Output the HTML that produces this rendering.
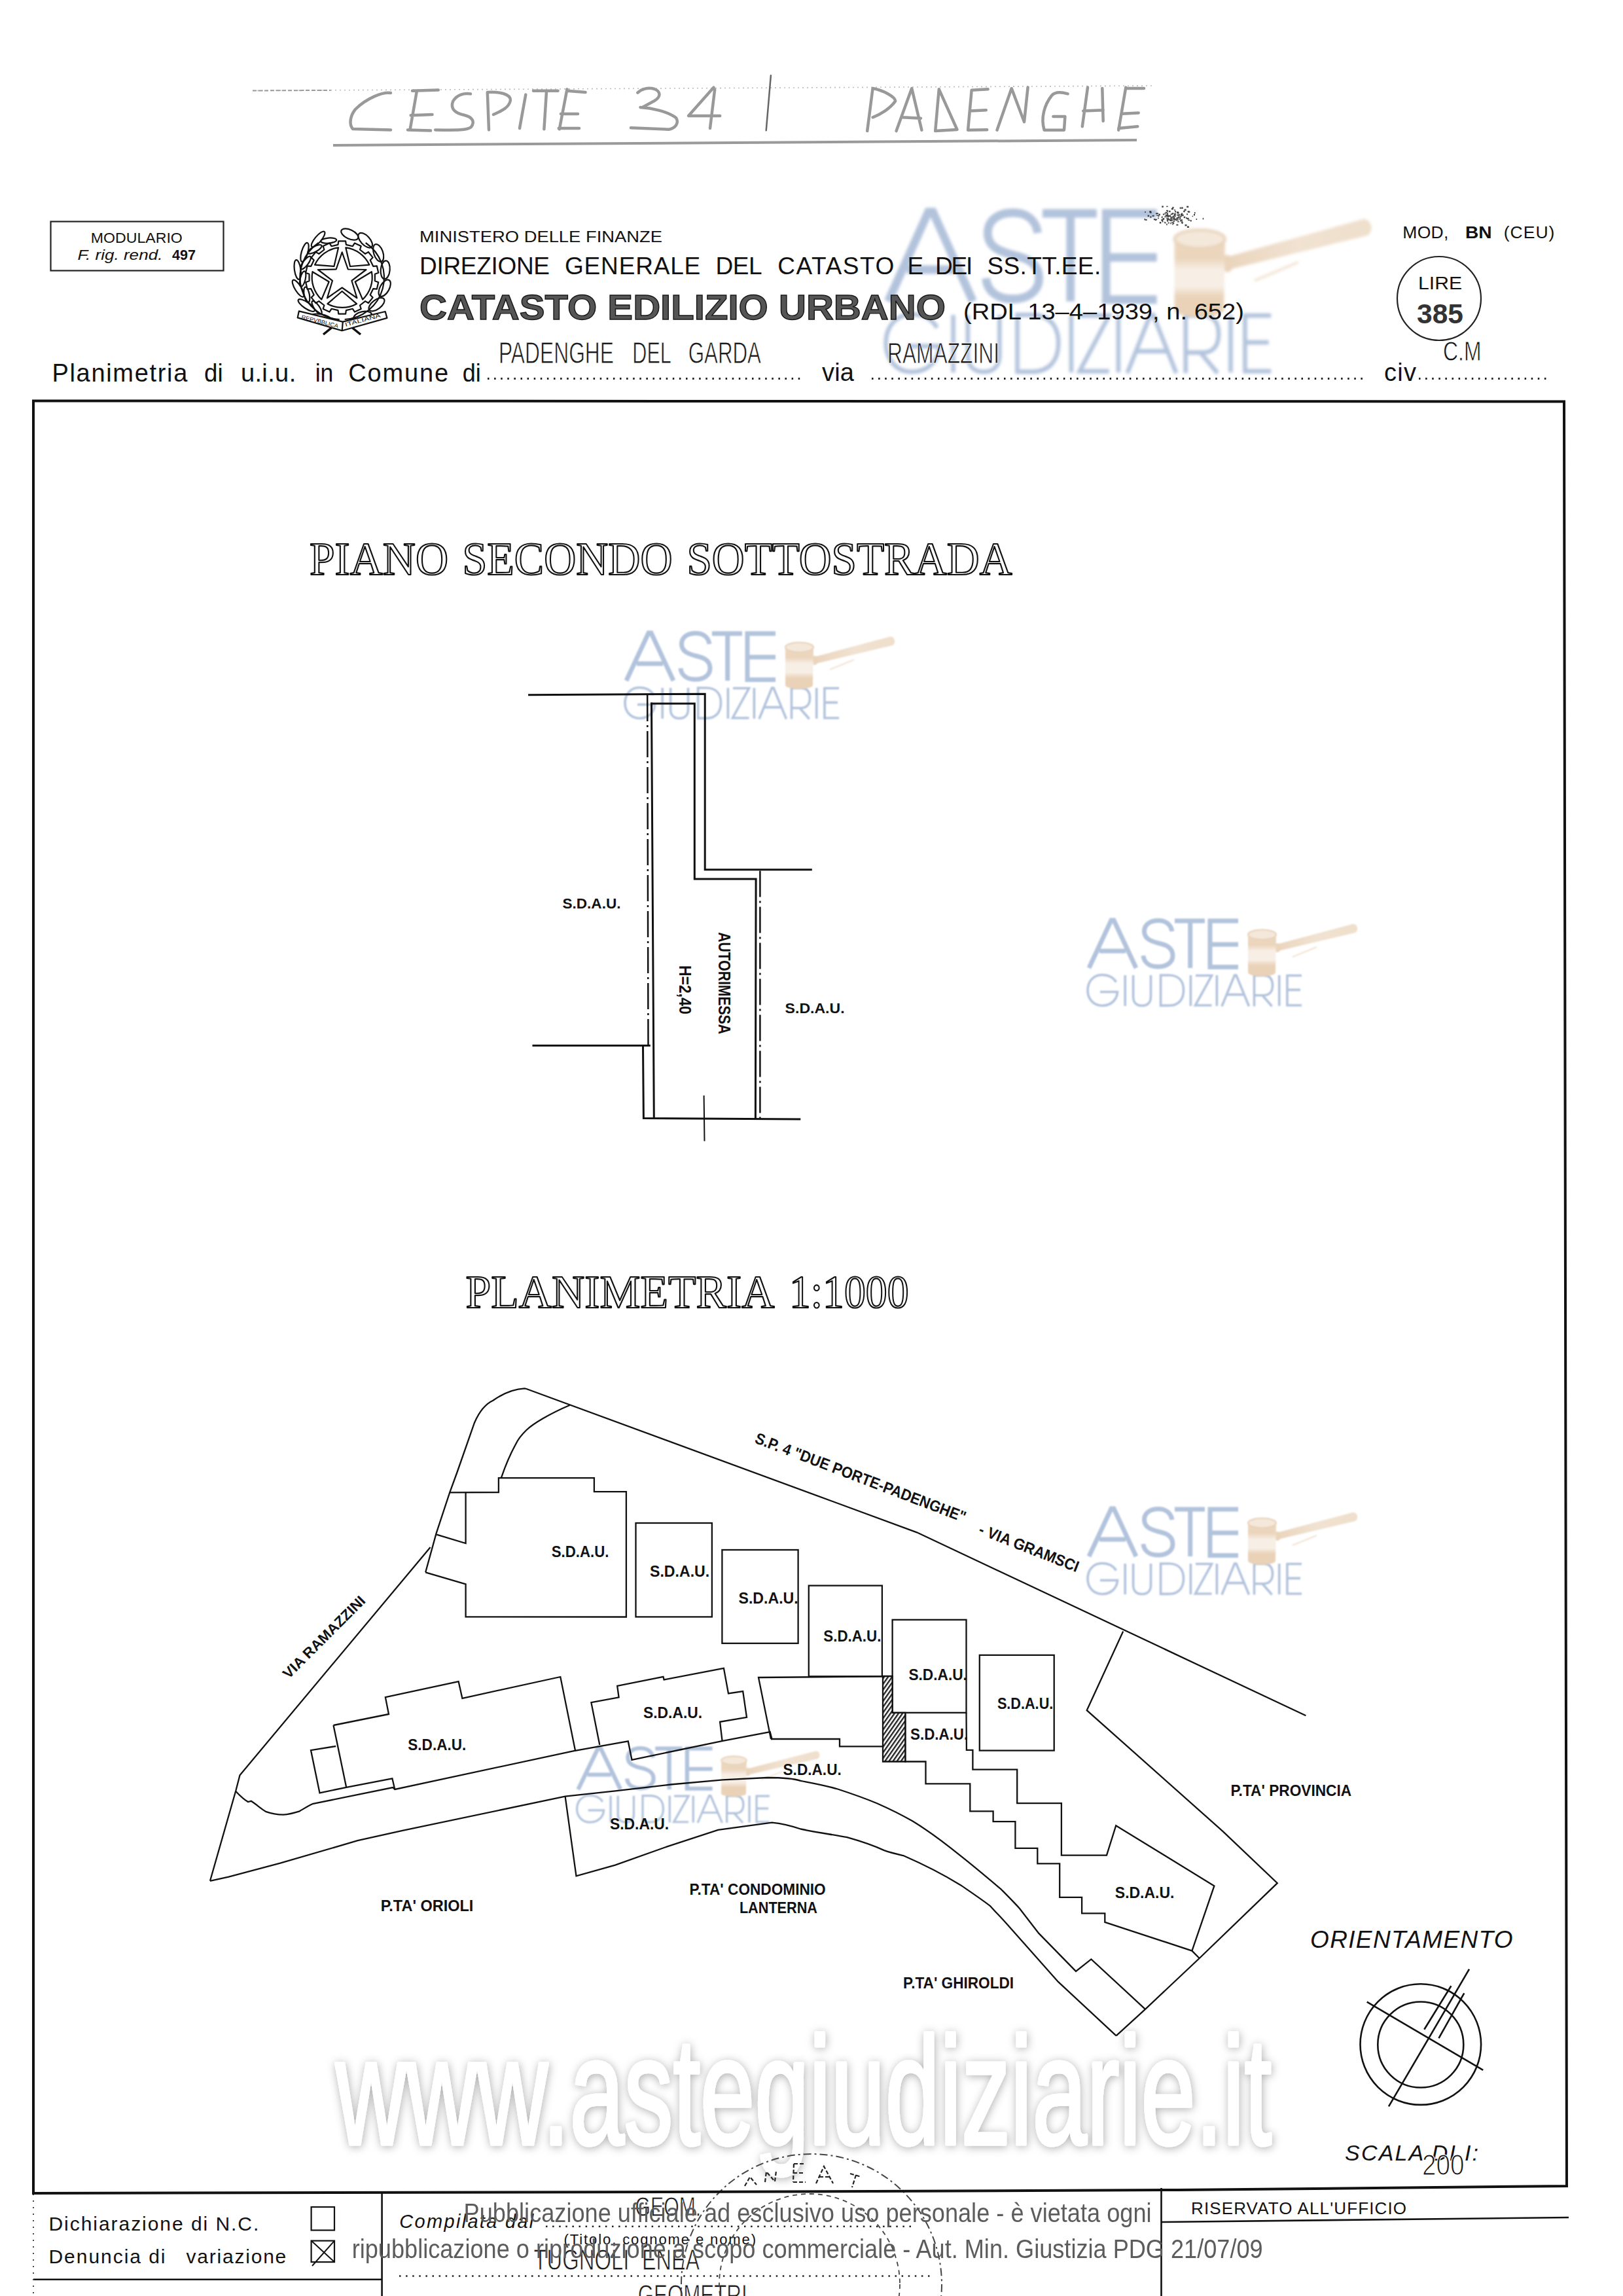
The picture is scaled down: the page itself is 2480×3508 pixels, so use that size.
<!DOCTYPE html>
<html><head><meta charset="utf-8">
<style>
html,body{margin:0;padding:0;background:#fff;}
body{width:2480px;height:3508px;overflow:hidden;position:relative;}
svg{position:absolute;left:0;top:0;}
text{font-family:"Liberation Sans",sans-serif;}
.serif{font-family:"Liberation Serif",serif;}
</style></head>
<body>
<svg width="2480" height="3508" viewBox="0 0 2480 3508">
<defs>
<linearGradient id="gvb" x1="0" y1="0" x2="0" y2="1">
  <stop offset="0" stop-color="#ecd7c0"/><stop offset="0.25" stop-color="#ebd5bc"/>
  <stop offset="0.4" stop-color="#f7eee5"/><stop offset="0.62" stop-color="#f7eee5"/>
  <stop offset="0.75" stop-color="#ead3b9"/><stop offset="1" stop-color="#e8d0b4"/>
</linearGradient>
<linearGradient id="gvh" x1="0" y1="0" x2="1" y2="0">
  <stop offset="0" stop-color="#ead5bd"/><stop offset="0.5" stop-color="#f1e2d1"/><stop offset="1" stop-color="#efdfcc"/>
</linearGradient>
<filter id="wmblur" x="-5%" y="-10%" width="110%" height="120%"><feGaussianBlur stdDeviation="1.1"/></filter>
<filter id="blur1" x="-5%" y="-5%" width="110%" height="110%"><feGaussianBlur stdDeviation="0.8"/></filter>
<filter id="wmshadow" x="-5%" y="-20%" width="110%" height="140%">
  <feGaussianBlur in="SourceAlpha" stdDeviation="6" result="b"/>
  <feFlood flood-color="#000" flood-opacity="0.32"/>
  <feComposite in2="b" operator="in" result="s"/>
  <feMerge><feMergeNode in="s"/><feMergeNode in="SourceGraphic"/></feMerge>
</filter>
<!-- ASTE GIUDIZIARIE watermark base (coords of instance at 1658,1403) -->
<g id="wm" filter="url(#wmblur)">
  <g fill="none" stroke="#b2c3dc" stroke-linecap="butt" stroke-linejoin="miter">
    <g stroke-width="7">
      <path d="M1664 1479 L1698 1406 L1702 1406 L1736 1479 M1680 1453 L1720 1453"/>
      <path d="M1791 1423 C1789 1411 1780 1406.5 1770 1406.5 C1757 1406.5 1748.5 1413 1748.5 1423 C1748.5 1434 1758 1438 1770 1441 C1784 1444 1792 1449 1792 1460 C1792 1471 1782 1477 1770 1477 C1757 1477 1748 1471 1747 1460"/>
      <path d="M1795 1407 L1841 1407 M1818.7 1407 L1818.7 1479"/>
      <path d="M1892 1407 L1849 1407 L1849 1477.5 L1892 1477.5 M1849 1443 L1892 1443"/>
    </g>
    <g stroke-width="3.6">
      <path d="M1705.5 1500.5 C1701 1493 1693 1489.5 1684 1489.5 C1670.5 1489.5 1662 1500 1662 1513 C1662 1526.5 1671 1536.5 1684 1536.5 C1698 1536.5 1707 1527 1707.5 1515.5 L1681 1515.5"/>
      <path d="M1719.2 1490 L1719.2 1537"/>
      <path d="M1731.6 1490 L1731.6 1523 C1731.6 1532 1737 1536.5 1745 1536.5 C1753 1536.5 1758.5 1532 1758.5 1523 L1758.5 1490"/>
      <path d="M1773.6 1490 L1773.6 1536.4 L1786 1536.4 C1801 1536.4 1808.5 1527 1808.5 1513 C1808.5 1499 1801 1490 1786 1490 Z"/>
      <path d="M1819.4 1490 L1819.4 1537"/>
      <path d="M1827 1490.5 L1851.5 1490.5 L1826.5 1536 L1851.5 1536"/>
      <path d="M1859.4 1490 L1859.4 1537"/>
      <path d="M1867 1537.5 L1886.5 1490 L1889 1490 L1908.5 1537.5 M1874 1519.6 L1901.5 1519.6"/>
      <path d="M1916.5 1537.5 L1916.5 1490.5 L1931 1490.5 C1940 1490.5 1944.5 1496 1944.5 1505.5 C1944.5 1515 1940 1520.7 1931 1520.7 L1916.5 1520.7 M1929 1520.7 L1943.6 1537.5"/>
      <path d="M1954.7 1490 L1954.7 1537"/>
      <path d="M1989 1490.5 L1966.9 1490.5 L1966.9 1536 L1989 1536 M1966.9 1512.4 L1987 1512.4"/>
    </g>
  </g>
  <!-- gavel -->
  <g>
    <path d="M1950 1443 L2066 1412 C2074 1410 2077 1421 2071 1425 L1953 1453 Z" fill="url(#gvh)"/>
    <path d="M1975 1462 L2012 1447" stroke="#f1e3d3" stroke-width="2" fill="none"/>
    <ellipse cx="1952" cy="1448" rx="5" ry="7" fill="#ead4bb"/>
    <path d="M1907 1428 L1950 1428 L1949 1485 C1945 1492 1911 1492 1907 1485 Z" fill="url(#gvb)"/>
    <ellipse cx="1928.5" cy="1428" rx="21.5" ry="7.5" fill="#f4e8da" stroke="#e8d2b9" stroke-width="2.2"/>
    <ellipse cx="1928" cy="1486" rx="21" ry="5.5" fill="#e9d2b7"/>
  </g>
</g>
</g>
</defs>

<!-- watermark instances -->
<use href="#wm"/>
<use href="#wm" transform="translate(0,899)"/>
<use href="#wm" transform="translate(-707,-439)"/>
<use href="#wm" transform="translate(878,2668) scale(0.9,0.87) translate(-1658,-1403)"/>
<use href="#wm" transform="translate(1346.4,318.5) scale(1.8,1.87) translate(-1658,-1403)"/>



<!-- handwritten top -->
<g fill="none" stroke="#bdbdbd" stroke-width="1.6" stroke-dasharray="2 5">
  <path d="M386 138.5 L1760 131"/>
</g>
<path d="M386 138.5 L505 137.9" stroke="#9a9a9a" stroke-width="2" stroke-dasharray="6 3" fill="none"/>
<path d="M509 222 C900 221 1300 219 1737 214" fill="none" stroke="#9a9a9a" stroke-width="4"/>
<g fill="none" stroke="#999" stroke-width="4.5" stroke-linecap="round" stroke-linejoin="round">
  <path d="M597 142 C585 140 560 150 543 167 C535 177 533 190 539 197 L597 198.5"/>
  <path d="M637 138.7 L626.5 198.4 M630 138.7 L669.8 137.6 M627.7 176.2 L660.5 175 M623 198.4 L658 199.6"/>
  <path d="M719 143.4 C710 142 698 144 692 155 C688 166 695 173 710 176 C722 179 726 186 720 194 C714 199 700 199 665.2 198.4"/>
  <path d="M744.8 141 L747 198.4 M744.8 141 C765 140 780 144 780 153 C778 165 765 170 754 175"/>
  <path d="M803.3 144.6 L794 196"/>
  <path d="M815 138.7 L852.5 138.7 M835 140 L831.4 197.3"/>
  <path d="M866.5 136.4 L854.8 197.3 M866.5 138.7 L894.6 141 M857 173.9 L883 173.9 M853.7 196 L885 196"/>
  <path d="M974.4 141.7 C980 136 990 133 1000 136 C1010 140 1010 148 1000 154 L981.7 164 M978.5 164 C995 165 1020 170 1033 180 C1038 188 1032 196 1022 197.7 L964 195.3"/>
  <path d="M1090.6 133.6 L1052 176.9 L1100.2 176.9 M1092.2 136.8 L1085 196"/>
  <path d="M1177.9 115.2 L1170.7 199.3" stroke="#666" stroke-width="2.5"/>
  <path d="M1333.6 135 L1325.2 200.1 M1333.6 135 C1350 138 1368 148 1368.2 154.4 C1360 166 1345 175 1333.6 179.3"/>
  <path d="M1369.6 200.1 L1393.2 135 L1408.4 198.7 M1379.3 179.3 L1407 180.7"/>
  <path d="M1434.8 136.3 L1429.2 200.1 L1462.5 198 L1434.8 136.3"/>
  <path d="M1484.7 137.7 L1479.1 198.7 M1484.7 137.7 L1509.6 136.3 M1481.9 169.6 L1506.8 168.2 M1479.1 198.7 L1508.2 198.2"/>
  <path d="M1523.5 198.7 L1545.7 135 L1565 186.2 L1570.6 133.6"/>
  <path d="M1631.6 143.3 C1620 140 1612 140 1607 146 C1596 160 1590 180 1595.6 198.7 L1626 198.7 L1627.4 177.9 L1609.4 177.9"/>
  <path d="M1662 133.6 L1653.8 193.2 M1684.3 135 L1685.7 184.9 M1655.2 169.6 L1685.7 168.2"/>
  <path d="M1720.3 133.6 L1709.2 198.7 M1720.3 135 L1748 135 M1714.8 173.8 L1739.7 172.4 M1709.2 196 L1738.3 193.2"/>
</g>

<!-- ===== HEADER ===== -->
<g fill="#222" opacity="0.85"><rect x="1785.4" y="335.1" width="1.5" height="1.5"/><rect x="1793.5" y="327.8" width="1.5" height="2.5"/><rect x="1791.7" y="334.3" width="3" height="1.5"/><rect x="1791.3" y="341.1" width="1.5" height="2.5"/><rect x="1799.1" y="335.0" width="1.5" height="2.5"/><rect x="1785.1" y="329.7" width="2" height="1.5"/><rect x="1781.0" y="329.5" width="3" height="1.5"/><rect x="1767.3" y="328.4" width="2" height="1.5"/><rect x="1767.6" y="325.4" width="2.5" height="1.5"/><rect x="1783.8" y="330.1" width="1.5" height="2.5"/><rect x="1797.4" y="342.6" width="3" height="2"/><rect x="1750.1" y="334.9" width="2.5" height="2"/><rect x="1790.1" y="336.0" width="2" height="1.5"/><rect x="1770.4" y="326.6" width="2.5" height="2.5"/><rect x="1766.6" y="334.5" width="1.5" height="1.5"/><rect x="1779.2" y="330.6" width="2.5" height="1.5"/><rect x="1807.2" y="327.6" width="1.5" height="2.5"/><rect x="1757.1" y="323.8" width="2.5" height="2"/><rect x="1781.9" y="320.9" width="3" height="1.5"/><rect x="1813.2" y="314.7" width="3" height="2.5"/><rect x="1786.7" y="328.6" width="2.5" height="2.5"/><rect x="1766.0" y="325.3" width="3" height="2"/><rect x="1782.2" y="314.7" width="2.5" height="1.5"/><rect x="1805.7" y="328.3" width="1.5" height="2"/><rect x="1818.7" y="336.0" width="2" height="2.5"/><rect x="1790.3" y="339.0" width="3" height="1.5"/><rect x="1799.2" y="338.0" width="2.5" height="1.5"/><rect x="1805.2" y="316.5" width="2.5" height="2.5"/><rect x="1775.4" y="334.8" width="3" height="1.5"/><rect x="1796.5" y="335.0" width="2" height="2.5"/><rect x="1792.2" y="340.2" width="2" height="2"/><rect x="1788.0" y="335.4" width="2.5" height="2.5"/><rect x="1749.3" y="323.0" width="1.5" height="2"/><rect x="1815.3" y="322.8" width="3" height="2"/><rect x="1783.2" y="333.2" width="3" height="1.5"/><rect x="1781.9" y="332.4" width="1.5" height="1.5"/><rect x="1800.3" y="331.0" width="1.5" height="2"/><rect x="1784.8" y="329.0" width="2" height="2.5"/><rect x="1771.8" y="339.0" width="2.5" height="2.5"/><rect x="1783.9" y="334.1" width="3" height="2"/><rect x="1774.6" y="331.8" width="2" height="1.5"/><rect x="1789.9" y="317.9" width="3" height="2.5"/><rect x="1792.1" y="332.5" width="2.5" height="1.5"/><rect x="1775.3" y="314.5" width="2.5" height="2.5"/><rect x="1808.2" y="321.7" width="2.5" height="2.5"/><rect x="1782.7" y="334.6" width="2" height="2.5"/><rect x="1769.4" y="328.6" width="2" height="2.5"/><rect x="1809.6" y="319.4" width="3" height="2.5"/><rect x="1794.0" y="326.0" width="3" height="2"/><rect x="1795.1" y="322.2" width="2" height="2.5"/><rect x="1776.9" y="326.5" width="2.5" height="2"/><rect x="1797.3" y="332.8" width="3" height="1.5"/><rect x="1779.2" y="338.8" width="1.5" height="2"/><rect x="1803.9" y="327.0" width="1.5" height="2.5"/><rect x="1803.0" y="336.4" width="2" height="2"/><rect x="1804.7" y="325.5" width="2.5" height="1.5"/><rect x="1775.5" y="335.9" width="1.5" height="2.5"/><rect x="1813.7" y="332.8" width="3" height="2.5"/><rect x="1810.5" y="342.9" width="3" height="2.5"/><rect x="1799.7" y="329.2" width="2" height="1.5"/><rect x="1837.7" y="332.9" width="1.5" height="2.5"/><rect x="1790.0" y="326.6" width="2" height="1.5"/><rect x="1802.3" y="332.0" width="2" height="2.5"/><rect x="1779.6" y="339.9" width="2" height="1.5"/><rect x="1804.2" y="327.0" width="3" height="2.5"/><rect x="1756.2" y="322.3" width="3" height="2.5"/><rect x="1797.0" y="334.4" width="1.5" height="2"/><rect x="1794.1" y="320.2" width="2" height="1.5"/><rect x="1805.8" y="339.6" width="1.5" height="2.5"/><rect x="1815.2" y="335.6" width="3" height="1.5"/><rect x="1794.6" y="329.2" width="2" height="2"/><rect x="1797.9" y="332.0" width="3" height="2.5"/><rect x="1827.6" y="334.0" width="1.5" height="2"/><rect x="1780.6" y="327.7" width="2.5" height="2"/><rect x="1757.4" y="330.3" width="2" height="2.5"/><rect x="1753.6" y="328.6" width="2.5" height="2.5"/><rect x="1799.5" y="327.6" width="3" height="1.5"/><rect x="1774.4" y="335.0" width="2.5" height="1.5"/><rect x="1781.0" y="323.6" width="2" height="2.5"/><rect x="1787.0" y="334.9" width="2" height="2.5"/><rect x="1779.3" y="325.0" width="2.5" height="1.5"/><rect x="1802.4" y="329.9" width="1.5" height="2"/><rect x="1798.0" y="327.8" width="2" height="1.5"/><rect x="1774.5" y="335.8" width="2.5" height="2"/><rect x="1804.4" y="335.2" width="2.5" height="2.5"/><rect x="1762.9" y="334.2" width="3" height="2"/><rect x="1775.0" y="330.3" width="1.5" height="1.5"/><rect x="1821.6" y="329.7" width="1.5" height="1.5"/><rect x="1789.5" y="333.3" width="2" height="2"/><rect x="1791.2" y="316.2" width="2.5" height="2"/><rect x="1813.9" y="345.5" width="3" height="2.5"/><rect x="1783.2" y="336.7" width="2" height="2"/><rect x="1801.3" y="327.1" width="1.5" height="2.5"/><rect x="1801.9" y="334.3" width="2" height="1.5"/><rect x="1789.2" y="335.1" width="1.5" height="2"/><rect x="1808.7" y="330.7" width="2.5" height="2.5"/><rect x="1805.2" y="338.1" width="2" height="1.5"/><rect x="1803.8" y="329.8" width="2" height="1.5"/><rect x="1813.1" y="326.3" width="2" height="2"/><rect x="1764.7" y="335.0" width="2.5" height="2"/><rect x="1793.4" y="331.4" width="2" height="2.5"/><rect x="1748.5" y="334.0" width="1.5" height="2.5"/><rect x="1798.0" y="323.3" width="3" height="2.5"/><rect x="1799.1" y="324.1" width="2.5" height="2.5"/><rect x="1792.8" y="336.6" width="2" height="2.5"/><rect x="1788.7" y="326.6" width="2.5" height="1.5"/><rect x="1791.6" y="329.8" width="2.5" height="2"/><rect x="1793.9" y="333.9" width="3" height="2.5"/><rect x="1783.0" y="325.3" width="2" height="2.5"/><rect x="1784.7" y="339.6" width="2" height="2"/><rect x="1776.7" y="333.1" width="2.5" height="2.5"/><rect x="1787.9" y="332.9" width="2.5" height="1.5"/><rect x="1789.5" y="331.3" width="3" height="1.5"/><rect x="1769.0" y="332.5" width="2" height="1.5"/><rect x="1788.2" y="331.0" width="2.5" height="1.5"/><rect x="1804.8" y="339.4" width="3" height="1.5"/><rect x="1782.2" y="341.7" width="1.5" height="2.5"/><rect x="1824.0" y="326.9" width="2" height="2.5"/><rect x="1814.6" y="322.3" width="3" height="2"/><rect x="1786.1" y="321.8" width="2.5" height="2.5"/><rect x="1782.6" y="328.0" width="3" height="2.5"/><rect x="1783.5" y="322.0" width="1.5" height="2.5"/><rect x="1757.1" y="322.5" width="2" height="1.5"/><rect x="1799.4" y="331.8" width="2.5" height="1.5"/><rect x="1775.9" y="337.1" width="1.5" height="2.5"/><rect x="1812.0" y="332.2" width="2" height="2"/><rect x="1788.3" y="339.8" width="1.5" height="2.5"/><rect x="1825.0" y="324.0" width="1.5" height="2.5"/><rect x="1760.6" y="328.8" width="3" height="2"/><rect x="1802.7" y="316.6" width="2" height="2.5"/><rect x="1790.5" y="325.2" width="3" height="2"/><rect x="1794.1" y="328.4" width="2.5" height="1.5"/></g>

<g fill="#111">
  <rect x="77.5" y="338.5" width="264" height="75" fill="none" stroke="#222" stroke-width="2.2"/>
  <text x="208.8" y="371.3" font-size="21.5" text-anchor="middle" textLength="140" lengthAdjust="spacingAndGlyphs">MODULARIO</text>
  <text x="118.4" y="396.9" font-size="21.5" font-style="italic" textLength="130" lengthAdjust="spacingAndGlyphs">F. rig. rend.</text>
  <text x="263" y="396.9" font-size="21.5" font-weight="bold" textLength="36" lengthAdjust="spacingAndGlyphs">497</text>
  <text x="641" y="370" font-size="23" textLength="371" lengthAdjust="spacingAndGlyphs">MINISTERO DELLE FINANZE</text>
  <g font-size="37"><text x="641" y="418.5" textLength="199.0" lengthAdjust="spacing">DIREZIONE</text><text x="863" y="418.5" textLength="207.3" lengthAdjust="spacing">GENERALE</text><text x="1093.4" y="418.5" textLength="71.2" lengthAdjust="spacing">DEL</text><text x="1188.2" y="418.5" textLength="178.0" lengthAdjust="spacing">CATASTO</text><text x="1386.5" y="418.5" textLength="20.3" lengthAdjust="spacing">E</text><text x="1429" y="418.5" textLength="57.3" lengthAdjust="spacing">DEI</text><text x="1508.5" y="418.5" textLength="173.7" lengthAdjust="spacing">SS.TT.EE.</text></g>
  <text x="641" y="487.6" font-size="54.5" font-weight="bold" fill="#555" stroke="#151515" stroke-width="1.4" textLength="804" lengthAdjust="spacingAndGlyphs">CATASTO EDILIZIO URBANO</text>
  <text x="1472" y="488.4" font-size="35" textLength="429" lengthAdjust="spacingAndGlyphs">(RDL 13–4–1939, n. 652)</text>
  <text x="2143.3" y="363.5" font-size="26.5" textLength="70" lengthAdjust="spacing">MOD,</text>
  <text x="2239" y="363.5" font-size="26.5" font-weight="bold" textLength="40.6" lengthAdjust="spacingAndGlyphs">BN</text>
  <text x="2297.7" y="363.5" font-size="26.5" textLength="77.7" lengthAdjust="spacing">(CEU)</text>
  <circle cx="2199" cy="456" r="64" fill="none" stroke="#222" stroke-width="2.2"/>
  <text x="2167" y="441.8" font-size="28.5" textLength="67" lengthAdjust="spacingAndGlyphs">LIRE</text>
  <text x="2165" y="493.6" font-size="42" font-weight="bold" fill="#333" textLength="71" lengthAdjust="spacingAndGlyphs">385</text>
  <text x="2205" y="551.2" font-size="42" stroke="#fff" stroke-width="0.8" transform="translate(2205,551.2) scale(0.76,1) translate(-2205,-551.2)">C.M</text>
  <g font-size="38">
  <text x="79.4" y="582.5" textLength="207" lengthAdjust="spacing">Planimetria</text>
  <text x="312" y="582.5" textLength="28.6" lengthAdjust="spacingAndGlyphs">di</text>
  <text x="367.9" y="582.5" textLength="84.3" lengthAdjust="spacing">u.i.u.</text>
  <text x="481.7" y="582.5" textLength="27.7" lengthAdjust="spacingAndGlyphs">in</text>
  <text x="532.2" y="582.5" textLength="153" lengthAdjust="spacing">Comune</text>
  <text x="706.8" y="582.5" textLength="28" lengthAdjust="spacingAndGlyphs">di</text>
  </g>
  <text x="1256" y="582.2" font-size="38" textLength="49" lengthAdjust="spacing">via</text>
  <text x="2115" y="582.2" font-size="38" textLength="49" lengthAdjust="spacing">civ</text>
  <line x1="745" y1="578.5" x2="1228" y2="578.5" stroke="#222" stroke-width="3" stroke-dasharray="2.5 7.6"/>
  <line x1="1332" y1="578.5" x2="2088" y2="578.5" stroke="#222" stroke-width="3" stroke-dasharray="2.5 7.6"/>
  <line x1="2168" y1="578.5" x2="2363" y2="578.5" stroke="#222" stroke-width="3" stroke-dasharray="2.5 7.6"/>
  <g fill="#1a1a1a" font-size="46" stroke="#fff" stroke-width="0.8">
  <text x="762" y="555" textLength="176" lengthAdjust="spacingAndGlyphs">PADENGHE</text>
  <text x="966.3" y="555" textLength="59.5" lengthAdjust="spacingAndGlyphs">DEL</text>
  <text x="1051.7" y="555" textLength="111.3" lengthAdjust="spacingAndGlyphs">GARDA</text>
  </g>
  <text x="1356" y="555" font-size="45" textLength="171" lengthAdjust="spacingAndGlyphs" fill="#1a1a1a" stroke="#fff" stroke-width="0.8">RAMAZZINI</text>
</g>


<!-- emblem -->
<g fill="none" stroke="#111" stroke-width="2.2" stroke-linejoin="round">
  <g fill="#fff"><ellipse cx="490.3" cy="484.9" rx="15.0" ry="4.8" transform="rotate(190.0 490.3 484.9)"/><ellipse cx="468.3" cy="466.5" rx="15.0" ry="4.8" transform="rotate(214.0 468.3 466.5)"/><ellipse cx="455.7" cy="440.7" rx="15.0" ry="4.8" transform="rotate(238.0 455.7 440.7)"/><ellipse cx="454.7" cy="412.0" rx="15.0" ry="4.8" transform="rotate(262.0 454.7 412.0)"/><ellipse cx="465.5" cy="385.4" rx="15.0" ry="4.8" transform="rotate(286.0 465.5 385.4)"/><ellipse cx="486.1" cy="365.5" rx="15.0" ry="4.8" transform="rotate(310.0 486.1 365.5)"/><ellipse cx="484.1" cy="470.0" rx="12.0" ry="4.0" transform="rotate(235.0 484.1 470.0)"/><ellipse cx="468.8" cy="450.3" rx="12.0" ry="4.0" transform="rotate(259.0 468.8 450.3)"/><ellipse cx="462.7" cy="426.1" rx="12.0" ry="4.0" transform="rotate(283.0 462.7 426.1)"/><ellipse cx="467.1" cy="401.5" rx="12.0" ry="4.0" transform="rotate(307.0 467.1 401.5)"/><ellipse cx="481.0" cy="380.8" rx="12.0" ry="4.0" transform="rotate(331.0 481.0 380.8)"/><ellipse cx="502.2" cy="367.6" rx="12.0" ry="4.0" transform="rotate(355.0 502.2 367.6)"/><ellipse cx="554.2" cy="483.2" rx="14.0" ry="7.0" transform="rotate(-13.0 554.2 483.2)"/><ellipse cx="575.5" cy="465.2" rx="14.0" ry="7.0" transform="rotate(-37.0 575.5 465.2)"/><ellipse cx="587.7" cy="440.2" rx="14.0" ry="7.0" transform="rotate(-61.0 587.7 440.2)"/><ellipse cx="588.7" cy="412.4" rx="14.0" ry="7.0" transform="rotate(-85.0 588.7 412.4)"/><ellipse cx="578.2" cy="386.5" rx="14.0" ry="7.0" transform="rotate(-109.0 578.2 386.5)"/><ellipse cx="558.2" cy="367.2" rx="14.0" ry="7.0" transform="rotate(-133.0 558.2 367.2)"/><ellipse cx="534.3" cy="358.0" rx="14.0" ry="7.0" transform="rotate(-155.0 534.3 358.0)"/></g>
  <path d="M518.7,488 A64,64 0 0 1 486.7,371" />
  <path d="M526.7,488 A64,64 0 0 0 558.7,371" />
  <path d="M516.5,373.9 L517.3,368.3 L528.1,368.3 L528.9,373.9 L538.9,376.2 L542.0,371.4 L551.7,376.1 L550.0,381.5 L558.1,387.9 L562.9,385.0 L569.6,393.4 L565.7,397.6 L570.2,406.8 L575.9,406.4 L578.2,416.8 L572.9,418.8 L572.9,429.2 L578.2,431.2 L575.9,441.6 L570.2,441.2 L565.7,450.4 L569.6,454.6 L562.9,463.0 L558.1,460.1 L550.0,466.5 L551.7,471.9 L542.0,476.6 L538.9,471.8 L528.9,474.1 L528.1,479.7 L517.3,479.7 L516.5,474.1 L506.5,471.8 L503.4,476.6 L493.7,471.9 L495.4,466.5 L487.3,460.1 L482.5,463.0 L475.8,454.6 L479.7,450.4 L475.2,441.2 L469.5,441.6 L467.2,431.2 L472.5,429.2 L472.5,418.8 L467.2,416.8 L469.5,406.4 L475.2,406.8 L479.7,397.6 L475.8,393.4 L482.5,385.0 L487.3,387.9 L495.4,381.5 L493.7,376.1 L503.4,371.4 L506.5,376.2 Z" fill="#fff"/>
  <path d="M535.0,407.0 L528.3,378.3 A46,46 0 0 1 564.4,404.6 Z"/><path d="M542.7,430.5 L567.9,415.2 A46,46 0 0 1 554.1,457.6 Z"/><path d="M522.7,445.0 L545.0,464.2 A46,46 0 0 1 500.4,464.2 Z"/><path d="M502.7,430.5 L491.3,457.6 A46,46 0 0 1 477.5,415.2 Z"/><path d="M510.4,407.0 L481.0,404.6 A46,46 0 0 1 517.1,378.3 Z"/>
  <path d="M522.7,385.3 L531.8,411.5 L559.5,412.0 L537.4,428.8 L545.4,455.3 L522.7,439.5 L500.0,455.3 L508.0,428.8 L485.9,412.0 L513.6,411.5 Z" fill="#fff"/>
  <path d="M494,511 L515,494 M551,511 L530,494" stroke-width="3.5"/>
  <path d="M456.8,475.4 L523.8,491.6 L588.7,476 L591.4,485.9 L522.7,505.3 L454.7,485.4 Z" fill="#fff"/>
  <path d="M523.8,491.6 L522.7,505.3"/>
  <text x="460" y="487" font-size="8.5" fill="#111" stroke="none" transform="rotate(14 460 487)" textLength="58" lengthAdjust="spacingAndGlyphs">REPVBBLICA</text>
  <text x="528" y="499" font-size="8.5" fill="#111" stroke="none" transform="rotate(-15 528 499)" textLength="56" lengthAdjust="spacingAndGlyphs">ITALIANA</text>
</g>


<!-- titles -->
<g font-family="Liberation Serif" fill="#fff" stroke="#111" stroke-width="2.2" stroke-linejoin="round">
  <text x="473" y="877.8" font-size="71" textLength="212" lengthAdjust="spacingAndGlyphs" class="serif">PIANO</text>
  <text x="706.5" y="877.8" font-size="71" textLength="321" lengthAdjust="spacingAndGlyphs" class="serif">SECONDO</text>
  <text x="1049.5" y="877.8" font-size="71" textLength="497" lengthAdjust="spacingAndGlyphs" class="serif">SOTTOSTRADA</text>
  <text x="711.5" y="1997.7" font-size="71" textLength="472" lengthAdjust="spacingAndGlyphs" class="serif">PLANIMETRIA</text>
  <text x="1206" y="1997.7" font-size="71" textLength="182.5" lengthAdjust="spacingAndGlyphs" class="serif">1:1000</text>
</g>

<!-- garage plan -->
<g fill="none" stroke="#111" stroke-width="3" stroke-linecap="square">
  <path d="M808.6 1061.8 L1077.2 1060.2 L1077.2 1328.8 L1239.3 1328.8"/>
  <path d="M995.5 1075.1 L1061.3 1075.1 L1061.3 1343.1 L1155.1 1343.1 L1154.4 1708.6"/>
  <path d="M995.5 1075.1 L999.3 1708.6"/>
  <path d="M815 1597.4 L992.3 1597.4"/>
  <path d="M982.5 1599 L983.4 1708.6 L1221.8 1710"/>
</g>
<g fill="none" stroke="#111" stroke-width="2.5" stroke-dasharray="40 6 3 6">
  <path d="M989.2 1062 L990.5 1597"/>
  <path d="M1161.4 1330.4 L1161.4 1708.6"/>
</g>
<path d="M1075.6 1673.7 L1076.5 1743.6" stroke="#111" stroke-width="2" fill="none"/>
<g font-weight="bold" fill="#111" font-size="21.5">
  <text x="859.5" y="1387.6" textLength="89" lengthAdjust="spacingAndGlyphs">S.D.A.U.</text>
  <text x="1199.6" y="1548.1" textLength="91" lengthAdjust="spacingAndGlyphs">S.D.A.U.</text>
  <text transform="translate(1098,1424.2) rotate(90)" font-size="25" textLength="155.7" lengthAdjust="spacingAndGlyphs">AUTORIMESSA</text>
  <text transform="translate(1038,1475) rotate(90)" font-size="25" textLength="74.7" lengthAdjust="spacingAndGlyphs">H=2,40</text>
</g>


<!-- www watermark -->
<text x="513" y="3276" font-size="234" fill="#fff" stroke="#fff" stroke-width="5" stroke-linejoin="round" filter="url(#wwwsh)" textLength="1430" lengthAdjust="spacingAndGlyphs">www.astegiudiziarie.it</text>
<!-- ===== SITE PLAN ===== -->
<defs>
<pattern id="hatch" width="5" height="5" patternUnits="userSpaceOnUse" patternTransform="rotate(-55)">
  <rect width="5" height="5" fill="#fff"/>
  <rect width="5" height="2.4" fill="#222"/>
</pattern>
</defs>
<g fill="none" stroke="#111" stroke-width="2.3" stroke-linejoin="miter">
  <!-- top boundary (S.P.4) with curve at top-left -->
  <path d="M650.2 2402.3 L666.5 2343.2 L687.2 2280.3 L698.3 2250 L725 2173.7 C733 2155 742 2145 753.4 2139.7 C770 2128 788 2122 801.6 2121.3 L804.4 2122 L1401 2341.3 L1995.4 2621.3"/>
  <!-- inner road curve -->
  <path d="M871 2146.8 C840 2160 815 2175 804.4 2185 C796 2193 791 2200 787.4 2207.7 C778 2225 772 2240 766.1 2257.3"/>
  <!-- via ramazzini line -->
  <path d="M657.6 2363.9 L366.5 2712.3 L360.4 2735.7 L321 2873.8"/>
  <!-- bottom boundary / curve A -->
  <path d="M321 2873.8 L349.3 2867.6 L428.2 2846.7 L546.5 2812.2 L614 2797.1 L863.6 2744.7 L940 2736.4 L1025 2726.5 L1104.4 2719.4 L1172.4 2716 C1200 2716 1215 2718 1223.4 2720.8 C1245 2725 1262 2728 1280.1 2733.5 C1300 2740 1320 2747 1340 2755.2 C1360 2764 1378 2773 1394.2 2782.3 C1420 2798 1445 2817 1467.4 2835.2 C1490 2853 1510 2870 1529.8 2886.7 C1540 2897 1550 2907 1558 2916 L1587.3 2953.9 L1644 3011.9 L1667.4 2993.4 L1750 3069.8"/>
  <!-- curve B (lower) -->
  <path d="M863.6 2744.7 L880.5 2866.4 L940 2849.7 L1019.4 2821.4 L1097.3 2795.9 L1179.5 2784.6 C1195 2786 1210 2790 1223.4 2794.5 C1250 2800 1272 2803 1294.3 2807.2 C1315 2813 1333 2819 1351 2827.1 C1362 2831 1371 2833 1380.7 2835.2 C1410 2848 1440 2863 1467.4 2879.9 C1485 2892 1500 2902 1513.4 2912.4 C1522 2922 1530 2930 1538 2939.1 L1616.9 3027.9 L1705.6 3110.4"/>
  <!-- right boundary -->
  <path d="M1705.6 3110.4 L1750 3069.8 L1832.7 2992 L1951.8 2877.2 L1869.4 2798.8 L1660.7 2613.2 L1716.2 2492.5"/>
  <!-- inner road curve near bottom-left -->
  <path d="M360.4 2737 C366 2743 372 2749 378.9 2753 L383.8 2751.8 C392 2757 398 2763 406 2767.8 C415 2771 425 2772.5 433 2772.7 C441 2772 449 2770 457.7 2767.3 C465 2763 471 2759 477.4 2756.2 L600.2 2731 L603.3 2733.9 L875.9 2675.4 L959.8 2660.4 L965.5 2688.8 L1104.4 2659.8 L1176.7 2646.2 L1179.5 2657 L1283 2657 L1283 2668.3 L1349.6 2668.3"/>
  <!-- B1 big top-left building -->
  <path d="M686.8 2280.3 L761.9 2280 L761.9 2258.2 L907.9 2258.2 L907.9 2279.1 L956.9 2279.1 L956.9 2470.5 L711.6 2470.3 L711.6 2420.4 L650.2 2402.3"/>
  <path d="M711.6 2280.3 L711.6 2358 L667.2 2344.6"/>
  <!-- B2, B3, B4 boxes -->
  <rect x="971.5" y="2327" width="116.4" height="143.4"/>
  <rect x="1103.4" y="2368" width="116.2" height="142.8"/>
  <rect x="1235.8" y="2422.6" width="112.1" height="138.7"/>
  <rect x="1363.6" y="2474.8" width="112.9" height="142"/>
  <rect x="1496.8" y="2528.8" width="113.9" height="145.8"/>
  <!-- B_M2 -->
  <path d="M1348.8 2561.3 L1159 2563 L1178 2657"/>
  <!-- right of B5 lower -->
  <path d="M1383.3 2617.4 L1383.3 2691.5 L1414.5 2691.5 L1414.5 2725.4 L1482.3 2725.4 L1482.3 2767.4 L1517.6 2767.4 L1517.6 2783.1 L1551.4 2783.1 L1551.4 2823.8 L1585.3 2823.8 L1585.3 2847.4 L1619.2 2847.4 L1619.2 2898.9 L1653.1 2898.9 L1653.1 2923.3 L1688.3 2923.3 L1688.3 2936.8 L1821.4 2980.6 L1832.7 2992"/>
  <path d="M1476.5 2616.9 L1476.9 2673.9 L1486.4 2673.9 L1486.4 2703.7 L1554.2 2703.7 L1554.2 2755.2 L1621.9 2755.2 L1621.9 2834.6 L1691 2834.6 L1705.2 2789.3 L1855.4 2881.4 L1821.4 2980.6"/>
  <!-- hatch region -->
  <path d="M1349 2561 L1363.6 2561 L1363.6 2616.9 L1383.3 2616.9 L1383.3 2691.5 L1349 2691.5 Z" fill="url(#hatch)"/>
  <!-- bottom-left big building B_BL -->
  <path d="M509.5 2636 L594 2619 L588.9 2593.2 L700.6 2569.1 L706.4 2594.8 L856.3 2562 L879.2 2675.6"/>
  <path d="M509.5 2636 L529.2 2730.8"/>
  <path d="M513.2 2668 L475 2674.1 L488.5 2739.4 L529.2 2730.8 L599.4 2717.3 L603.3 2733.9"/>
  <!-- B_BM middle-bottom -->
  <path d="M916.3 2666 L903.4 2601.1 L945.6 2593.4 L943.2 2575.8 L1013.5 2561.8 L1014.6 2566.4 L1105.9 2548.9 L1113 2587.5 L1135.2 2584 L1141 2623.8 L1100.1 2630.8 L1103.6 2660.1"/>
  <!-- B_M2 left edge & bottom -->
  <path d="M1178 2657 L1179.5 2657"/>
</g>
<g font-weight="bold" fill="#111" font-size="24">
  <text x="842.7" y="2379.2" textLength="87.8" lengthAdjust="spacingAndGlyphs">S.D.A.U.</text>
  <text x="993" y="2409.1" textLength="91.2" lengthAdjust="spacingAndGlyphs">S.D.A.U.</text>
  <text x="1128.5" y="2449.8" textLength="91.2" lengthAdjust="spacingAndGlyphs">S.D.A.U.</text>
  <text x="1258.3" y="2508.4" textLength="88.1" lengthAdjust="spacingAndGlyphs">S.D.A.U.</text>
  <text x="1388.4" y="2566.7" textLength="89.5" lengthAdjust="spacingAndGlyphs">S.D.A.U.</text>
  <text x="1523.9" y="2611.4" textLength="85.4" lengthAdjust="spacingAndGlyphs">S.D.A.U.</text>
  <text x="1391.1" y="2657.5" textLength="88.1" lengthAdjust="spacingAndGlyphs">S.D.A.U.</text>
  <text x="1196.5" y="2712.3" textLength="89.3" lengthAdjust="spacingAndGlyphs">S.D.A.U.</text>
  <text x="983" y="2625" textLength="90.2" lengthAdjust="spacingAndGlyphs">S.D.A.U.</text>
  <text x="623.3" y="2674.4" textLength="89" lengthAdjust="spacingAndGlyphs">S.D.A.U.</text>
  <text x="932" y="2794.5" textLength="90.2" lengthAdjust="spacingAndGlyphs">S.D.A.U.</text>
  <text x="1703.8" y="2899.8" textLength="90.7" lengthAdjust="spacingAndGlyphs">S.D.A.U.</text>
  <text x="1880.4" y="2743.9" textLength="184.8" lengthAdjust="spacingAndGlyphs">P.TA' PROVINCIA</text>
  <text x="1380" y="3037.7" textLength="169.1" lengthAdjust="spacingAndGlyphs">P.TA' GHIROLDI</text>
  <text x="581.7" y="2920.3" textLength="141.7" lengthAdjust="spacingAndGlyphs">P.TA' ORIOLI</text>
  <text x="1053.4" y="2895.1" textLength="208.3" lengthAdjust="spacingAndGlyphs">P.TA' CONDOMINIO</text>
  <text x="1129.9" y="2923.4" textLength="119.1" lengthAdjust="spacingAndGlyphs">LANTERNA</text>
  <text transform="translate(1152,2204) rotate(20.9)" textLength="342.7" lengthAdjust="spacingAndGlyphs">S.P. 4 "DUE PORTE-PADENGHE"</text>
  <text transform="translate(1494,2343) rotate(21.5)" textLength="162" lengthAdjust="spacingAndGlyphs">-  VIA GRAMSCI</text>
  <text transform="translate(441,2566) rotate(-45)" font-size="22" textLength="168" lengthAdjust="spacingAndGlyphs">VIA  RAMAZZINI</text>
</g>


<!-- ===== ORIENTAMENTO ===== -->
<g fill="#111">
  <text x="2002" y="2975.5" font-size="37" font-style="italic" textLength="309.6" lengthAdjust="spacing">ORIENTAMENTO</text>
</g>
<g fill="none" stroke="#111" stroke-width="2.6">
  <circle cx="2170.8" cy="3123.6" r="92.3"/>
  <circle cx="2170.8" cy="3124" r="65.5"/>
  <path d="M2122 3218.4 L2245 3008.7"/>
  <path d="M2088.7 3058.6 L2266.2 3162.9"/>
  <path d="M2176.3 3100.8 L2217.4 3034.2"/>
  <path d="M2198.5 3114.1 L2237.3 3045.3"/>
</g>
<text x="2055" y="3300.5" font-size="34" font-style="italic" fill="#111" textLength="204" lengthAdjust="spacing">SCALA DI I:</text>
<text x="2173" y="3323.4" font-size="44" fill="#111" stroke="#fff" stroke-width="1.2" transform="translate(2173,3323.4) scale(0.88,1) translate(-2173,-3323.4)">200</text>

<!-- ===== BOTTOM TABLE ===== -->
<g fill="none" stroke="#111" stroke-width="2.6">
  <path d="M583.6 3350 L583.6 3508"/>
  <path d="M51 3482.8 L583.6 3482.8"/>
  <path d="M1774.5 3343 L1774.5 3508"/>
  <path d="M1774.5 3395 L2397 3388"/>
  <rect x="475.6" y="3372" width="35.4" height="35.5" stroke-width="2.2"/>
  <rect x="475.6" y="3423.6" width="35.4" height="32.5" stroke-width="2.2"/>
  <path d="M475.6 3423.6 L511 3456 M511 3423.6 L477 3462" stroke-width="2"/>
</g>
<path d="M51 3352 L51 3508" stroke="#444" stroke-width="2" stroke-dasharray="2 8" fill="none"/>
<g fill="#111">
  <text x="74.5" y="3408.3" font-size="30" textLength="320.8" lengthAdjust="spacing">Dichiarazione di N.C.</text>
  <text x="74.5" y="3458" font-size="30" textLength="178" lengthAdjust="spacing">Denuncia di</text>
  <text x="284.6" y="3458" font-size="30" textLength="152.7" lengthAdjust="spacing">variazione</text>
  <text x="610.3" y="3404" font-size="29" font-style="italic" textLength="205" lengthAdjust="spacing">Compilata dal</text>
  <text x="861.6" y="3429" font-size="22" textLength="293.4" lengthAdjust="spacing">(Titolo, cognome e nome)</text>
  <text x="1820" y="3383.3" font-size="26" textLength="329" lengthAdjust="spacing">RISERVATO ALL'UFFICIO</text>
</g>
<g fill="none" stroke="#222" stroke-width="2.6" stroke-dasharray="2.5 7.6">
  <path d="M834 3401.8 L1392 3401.8"/>
  <path d="M610 3477.5 L1424 3477.5"/>
</g>
<g fill="#1a1a1a" stroke="#fff" stroke-width="0.8">
  <text x="970.5" y="3386" font-size="42" transform="translate(970.5,3386) scale(0.72,1) translate(-970.5,-3386)">GEOM.</text>
  <text x="815.5" y="3467.6" font-size="44" textLength="146" lengthAdjust="spacingAndGlyphs">TUGNOLI</text>
  <text x="981" y="3467.6" font-size="44" textLength="88" lengthAdjust="spacingAndGlyphs">ENEA</text>
  <text x="974.7" y="3522" font-size="44" textLength="167" lengthAdjust="spacingAndGlyphs">GEOMETRI</text>
</g>
<!-- stamp -->
<g fill="none" stroke="#444" stroke-width="2" stroke-dasharray="12 5 3 5">
  <circle cx="1240" cy="3490" r="199"/>
  <circle cx="1237" cy="3490" r="138" stroke-dasharray="7 6" stroke="#444" stroke-width="1.8"/>
</g>
<g fill="none" stroke="#222" stroke-width="2.2" stroke-dasharray="6 3">
  <path d="M1138 3340 L1146 3326 L1156 3338 M1169 3334 L1171 3318 L1184 3333 L1186 3317"/>
  <path d="M1213 3306 L1212 3334 M1213 3306 L1231 3306 M1212 3320 L1228 3320 M1212 3334 L1231 3334"/>
  <path d="M1247 3336 L1259 3310 L1273 3336 M1252 3326 L1268 3326"/>
  <path d="M1299 3321 L1316 3326 M1308 3323 L1302 3342"/>
</g>
<!-- frame -->
<g fill="none" stroke="#111" stroke-width="4">
  <path d="M51 612.5 L2390 613.5 L2394 3340 L1800 3346 L1200 3348.5 L51 3351 Z"/>
</g>


<!-- ===== OVERLAYS ===== -->
<defs>
<filter id="wwwsh" x="-3%" y="-20%" width="106%" height="150%">
  <feGaussianBlur in="SourceAlpha" stdDeviation="7"/>
  <feOffset dx="1" dy="2" result="b"/>
  <feFlood flood-color="#000" flood-opacity="0.32"/>
  <feComposite in2="b" operator="in" result="s"/>
  <feMerge><feMergeNode in="s"/><feMergeNode in="SourceGraphic"/></feMerge>
</filter>
<filter id="softtxt" x="-2%" y="-20%" width="104%" height="140%"><feGaussianBlur stdDeviation="0.7"/></filter>
</defs>
<g fill="#5c5c5c" filter="url(#softtxt)">
  <text x="708.6" y="3394.5" font-size="41" textLength="1051" lengthAdjust="spacingAndGlyphs">Pubblicazione ufficiale ad esclusivo uso personale - è vietata ogni</text>
  <text x="537.7" y="3449.5" font-size="41" textLength="1392" lengthAdjust="spacingAndGlyphs">ripubblicazione o riproduzione a scopo commerciale - Aut. Min. Giustizia PDG 21/07/09</text>
</g>

</svg>
</body></html>
